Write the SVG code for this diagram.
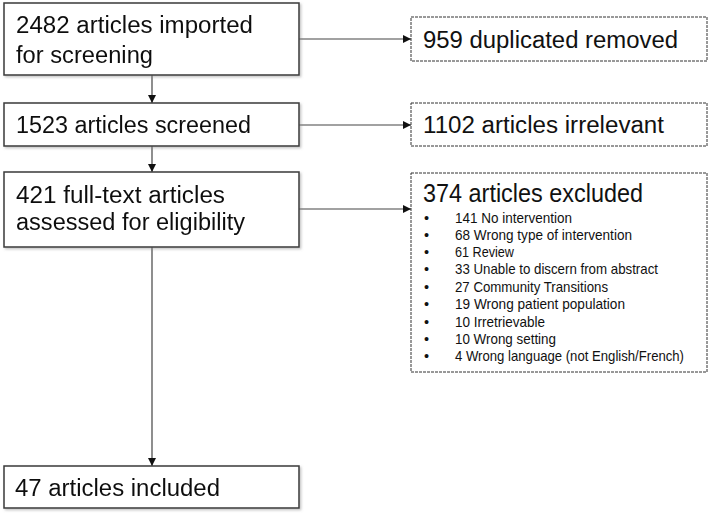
<svg xmlns="http://www.w3.org/2000/svg" width="709" height="518" viewBox="0 0 709 518">
<style>
.box{fill:#fff;stroke:#3a3a3a;stroke-width:1.5}
.dbox{fill:#fff;stroke:#333;stroke-width:1;stroke-dasharray:3 1}
.t{font-family:"Liberation Sans",Arial,sans-serif;font-size:23px;fill:#111}
.big{font-family:"Liberation Sans",Arial,sans-serif;font-size:26px;fill:#111}
.s{font-family:"Liberation Sans",Arial,sans-serif;font-size:14.5px;fill:#111}
.c{stroke:#444;stroke-width:1.2;fill:none}
</style>
<defs>
<marker id="ah" markerWidth="8" markerHeight="8" refX="8" refY="4" orient="auto" markerUnits="userSpaceOnUse">
<path d="M0,0 L8,4 L0,8 Z" fill="#111"/>
</marker>
<filter id="sh" x="-5%" y="-20%" width="110%" height="150%">
<feDropShadow dx="1.5" dy="1.5" stdDeviation="1.2" flood-color="#888" flood-opacity="0.5"/>
</filter>
</defs>
<g id="connectors">
<line class="c" x1="152" y1="75" x2="152" y2="103" marker-end="url(#ah)"/>
<line class="c" x1="152" y1="146" x2="152" y2="172" marker-end="url(#ah)"/>
<line class="c" x1="152" y1="247" x2="152" y2="466" marker-end="url(#ah)"/>
<line class="c" x1="299" y1="39" x2="411" y2="39" marker-end="url(#ah)"/>
<line class="c" x1="299" y1="125" x2="411" y2="125" marker-end="url(#ah)"/>
<line class="c" x1="299" y1="209" x2="411" y2="209" marker-end="url(#ah)"/>
</g>
<g id="n1" filter="url(#sh)">
<rect class="box" x="4" y="3" width="295" height="72"/>
<text class="t" x="16" y="33" textLength="237" lengthAdjust="spacingAndGlyphs">2482 articles imported</text>
<text class="t" x="16" y="63" textLength="137" lengthAdjust="spacingAndGlyphs">for screening</text>
</g>
<g id="n2" filter="url(#sh)">
<rect class="box" x="4" y="103" width="295" height="43"/>
<text class="t" x="16" y="133" textLength="235" lengthAdjust="spacingAndGlyphs">1523 articles screened</text>
</g>
<g id="n3" filter="url(#sh)">
<rect class="box" x="4" y="172" width="295" height="75"/>
<text class="t" x="16" y="203" textLength="209" lengthAdjust="spacingAndGlyphs">421 full-text articles</text>
<text class="t" x="16" y="230" textLength="229" lengthAdjust="spacingAndGlyphs">assessed for eligibility</text>
</g>
<g id="n4" filter="url(#sh)">
<rect class="box" x="4" y="466" width="295" height="42"/>
<text class="t" x="15" y="496" textLength="205" lengthAdjust="spacingAndGlyphs">47 articles included</text>
</g>
<g id="r1">
<rect class="dbox" x="411" y="17" width="296" height="44"/>
<text class="t" x="423" y="48" textLength="255" lengthAdjust="spacingAndGlyphs">959 duplicated removed</text>
</g>
<g id="r2">
<rect class="dbox" x="411" y="103" width="296" height="43"/>
<text class="t" x="423" y="133" textLength="241" lengthAdjust="spacingAndGlyphs">1102 articles irrelevant</text>
</g>
<g id="r3">
<rect class="dbox" x="411" y="173" width="296" height="199"/>
<text class="big" x="423" y="202" textLength="220" lengthAdjust="spacingAndGlyphs">374 articles excluded</text>
<g class="s">
<text x="424" y="223">•</text><text x="455" y="223" textLength="117" lengthAdjust="spacingAndGlyphs">141 No intervention</text>
<text x="424" y="240">•</text><text x="455" y="240" textLength="177" lengthAdjust="spacingAndGlyphs">68 Wrong type of intervention</text>
<text x="424" y="257">•</text><text x="455" y="257" textLength="59" lengthAdjust="spacingAndGlyphs">61 Review</text>
<text x="424" y="274">•</text><text x="455" y="274" textLength="203" lengthAdjust="spacingAndGlyphs">33 Unable to discern from abstract</text>
<text x="424" y="292">•</text><text x="455" y="292" textLength="153" lengthAdjust="spacingAndGlyphs">27 Community Transitions</text>
<text x="424" y="309">•</text><text x="455" y="309" textLength="170" lengthAdjust="spacingAndGlyphs">19 Wrong patient population</text>
<text x="424" y="327">•</text><text x="455" y="327" textLength="90" lengthAdjust="spacingAndGlyphs">10 Irretrievable</text>
<text x="424" y="344">•</text><text x="455" y="344" textLength="101" lengthAdjust="spacingAndGlyphs">10 Wrong setting</text>
<text x="424" y="361">•</text><text x="455" y="361" textLength="229" lengthAdjust="spacingAndGlyphs">4 Wrong language (not English/French)</text>
</g>
</g>
</svg>
